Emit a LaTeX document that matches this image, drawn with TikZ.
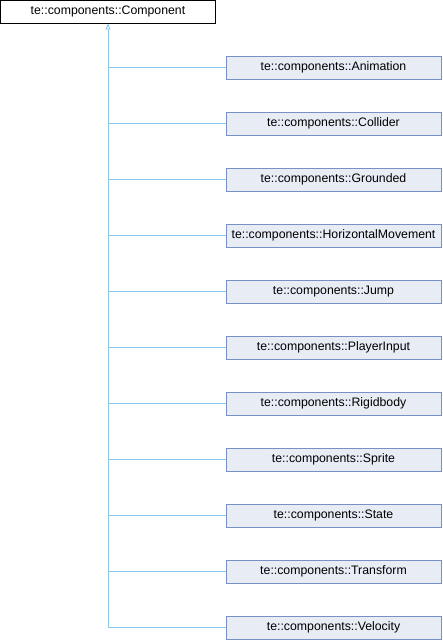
\documentclass[tikz,border=0pt]{standalone}
\usepackage{fontspec}
\setmainfont{Liberation Sans}
\usetikzlibrary{arrows.meta}

\definecolor{edgeblue}{HTML}{8CC8EA}
\definecolor{boxline}{HTML}{7890C8}
\definecolor{boxfill}{HTML}{E8ECF5}

\tikzset{
	base/.style = {draw=black, fill=white, line width=0.9pt, minimum width=215pt, minimum height=23pt, inner sep=0pt, font=\fontsize{12.3}{14}\selectfont},
	derived/.style = {base, draw=boxline, fill=boxfill},
	edge/.style = {draw=edgeblue, line width=0.9pt}
}

\begin{document}
\begin{tikzpicture}[x=1pt, y=-1pt]
	\useasboundingbox (0,0) rectangle (442,640);
	\node [base] (comp) at (108,11.5) {te::components::Component};
	\node [derived] (anim) at (333.5,67.5) {te::components::Animation};
	\node [derived] (coll) at (333.5,123.5) {te::components::Collider};
	\node [derived] (grnd) at (333.5,179.5) {te::components::Grounded};
	\node [derived] (hmov) at (333.5,235.5) {te::components::HorizontalMovement};
	\node [derived] (jump) at (333.5,291.5) {te::components::Jump};
	\node [derived] (pinp) at (333.5,347.5) {te::components::PlayerInput};
	\node [derived] (rigd) at (333.5,403.5) {te::components::Rigidbody};
	\node [derived] (sprt) at (333.5,459.5) {te::components::Sprite};
	\node [derived] (stat) at (333.5,515.5) {te::components::State};
	\node [derived] (trsf) at (333.5,571.5) {te::components::Transform};
	\node [derived] (velo) at (333.5,627.5) {te::components::Velocity};
	% trunk with the inheritance arrow
	\draw [edge, {Triangle[open, fill=white, length=6pt, width=5pt]}-] (comp.south) |- (velo.west);
	\draw [edge] (anim.west) -- (anim.west -| comp.south);
	\draw [edge] (coll.west) -- (coll.west -| comp.south);
	\draw [edge] (grnd.west) -- (grnd.west -| comp.south);
	\draw [edge] (hmov.west) -- (hmov.west -| comp.south);
	\draw [edge] (jump.west) -- (jump.west -| comp.south);
	\draw [edge] (pinp.west) -- (pinp.west -| comp.south);
	\draw [edge] (rigd.west) -- (rigd.west -| comp.south);
	\draw [edge] (sprt.west) -- (sprt.west -| comp.south);
	\draw [edge] (stat.west) -- (stat.west -| comp.south);
	\draw [edge] (trsf.west) -- (trsf.west -| comp.south);
\end{tikzpicture}
\end{document}
